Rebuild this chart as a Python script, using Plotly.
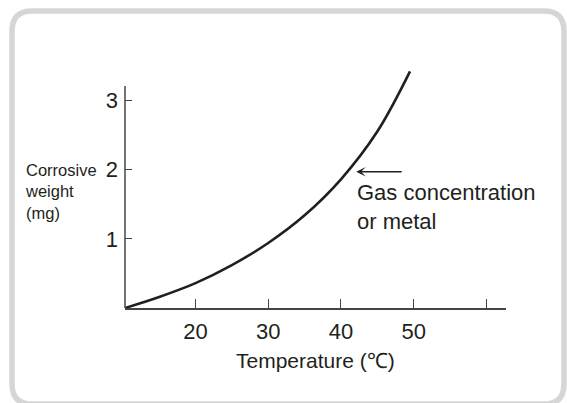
import plotly.graph_objects as go

# Data
temperature = [10.3, 15, 20, 25, 30, 35, 40, 45, 49.5]
corrosive_weight = [0.0, 0.16, 0.36, 0.62, 0.94, 1.34, 1.86, 2.55, 3.42]
x_tick_vals = [20, 30, 40, 50, 60]
x_tick_text = ["20", "30", "40", "50", ""]
y_tick_vals = [1, 2, 3]
y_tick_text = ["1", "2", "3"]

W, H = 567, 403
ML, MR, MT, MB = 125, 61, 70, 95
PW, PH = W - ML - MR, H - MT - MB
X_RANGE = [10.3, 62.7]
Y_RANGE = [0, 3.44]
Y_AXIS_TOP = 3.21

def px_x(p):
    return (p - ML) / PW

def px_y(p):
    return (H - MB - p) / PH

FONT = "Liberation Sans, Arial, Helvetica, sans-serif"
INK = "#231f20"

fig = go.Figure()
fig.add_trace(go.Scatter(
    x=temperature, y=corrosive_weight, mode="lines",
    line=dict(color=INK, width=2.6, shape="spline", smoothing=1.0),
    hoverinfo="skip", showlegend=False,
))

# rounded border (pixel coords converted to paper)
bx0, by0, bx1, by1, r = 12, 11, 564, 404, 20
def P(x, y):
    return f"{px_x(x):.5f},{px_y(y):.5f}"
path = (f"M {P(bx0 + r, by0)} L {P(bx1 - r, by0)} Q {P(bx1, by0)} {P(bx1, by0 + r)} "
        f"L {P(bx1, by1 - r)} Q {P(bx1, by1)} {P(bx1 - r, by1)} "
        f"L {P(bx0 + r, by1)} Q {P(bx0, by1)} {P(bx0, by1 - r)} "
        f"L {P(bx0, by0 + r)} Q {P(bx0, by0)} {P(bx0 + r, by0)} Z")

shapes = [
    dict(type="path", path=path, xref="paper", yref="paper",
         line=dict(color="#d6d6d6", width=5.5), layer="below"),
    dict(type="line", xref="paper", yref="y", x0=0, x1=0, y0=0, y1=Y_AXIS_TOP,
         line=dict(color="#444444", width=1.5)),
]

annotations = [
    dict(x=42.1, y=1.97, xref="x", yref="y", ax=47, ay=0, axref="pixel", ayref="pixel",
         text="", showarrow=True, arrowhead=3, arrowsize=1, arrowwidth=1.6,
         arrowcolor=INK),
    dict(x=px_x(355), y=px_y(207), xref="paper", yref="paper", xanchor="left",
         yanchor="middle", align="left", showarrow=False,
         text="Gas concentration<br>or metal",
         font=dict(family=FONT, size=22, color=INK)),
    dict(x=px_x(23), y=px_y(191.5), xref="paper", yref="paper", xanchor="left",
         yanchor="middle", align="left", showarrow=False,
         text="Corrosive<br>weight<br>(mg)",
         font=dict(family=FONT, size=16.5, color=INK)),
    dict(x=px_x(315), y=px_y(360), xref="paper", yref="paper", xanchor="center",
         yanchor="middle", showarrow=False,
         text="Temperature (℃)",
         font=dict(family=FONT, size=21, color=INK)),
]

fig.update_layout(
    width=W, height=H,
    margin=dict(l=ML, r=MR, t=MT, b=MB, pad=0),
    paper_bgcolor="white", plot_bgcolor="white",
    shapes=shapes, annotations=annotations,
    font=dict(family=FONT, color=INK),
    xaxis=dict(range=X_RANGE, showgrid=False, zeroline=False,
               showline=True, linecolor="#444444", linewidth=1.5,
               ticks="inside", ticklen=9, tickwidth=1.3, tickcolor="#444444",
               tickvals=x_tick_vals, ticktext=x_tick_text,
               tickfont=dict(family=FONT, size=22, color=INK),
               ticklabelstandoff=3),
    yaxis=dict(range=Y_RANGE, showgrid=False, zeroline=False, showline=False,
               ticks="inside", ticklen=7, tickwidth=1.3, tickcolor="#444444",
               tickvals=y_tick_vals, ticktext=y_tick_text,
               tickfont=dict(family=FONT, size=22, color=INK),
               ticklabelstandoff=6),
)

fig.write_html("out.html", config={"displayModeBar": False},
               post_script="document.body.style.margin='0';document.body.style.overflow='hidden';")
